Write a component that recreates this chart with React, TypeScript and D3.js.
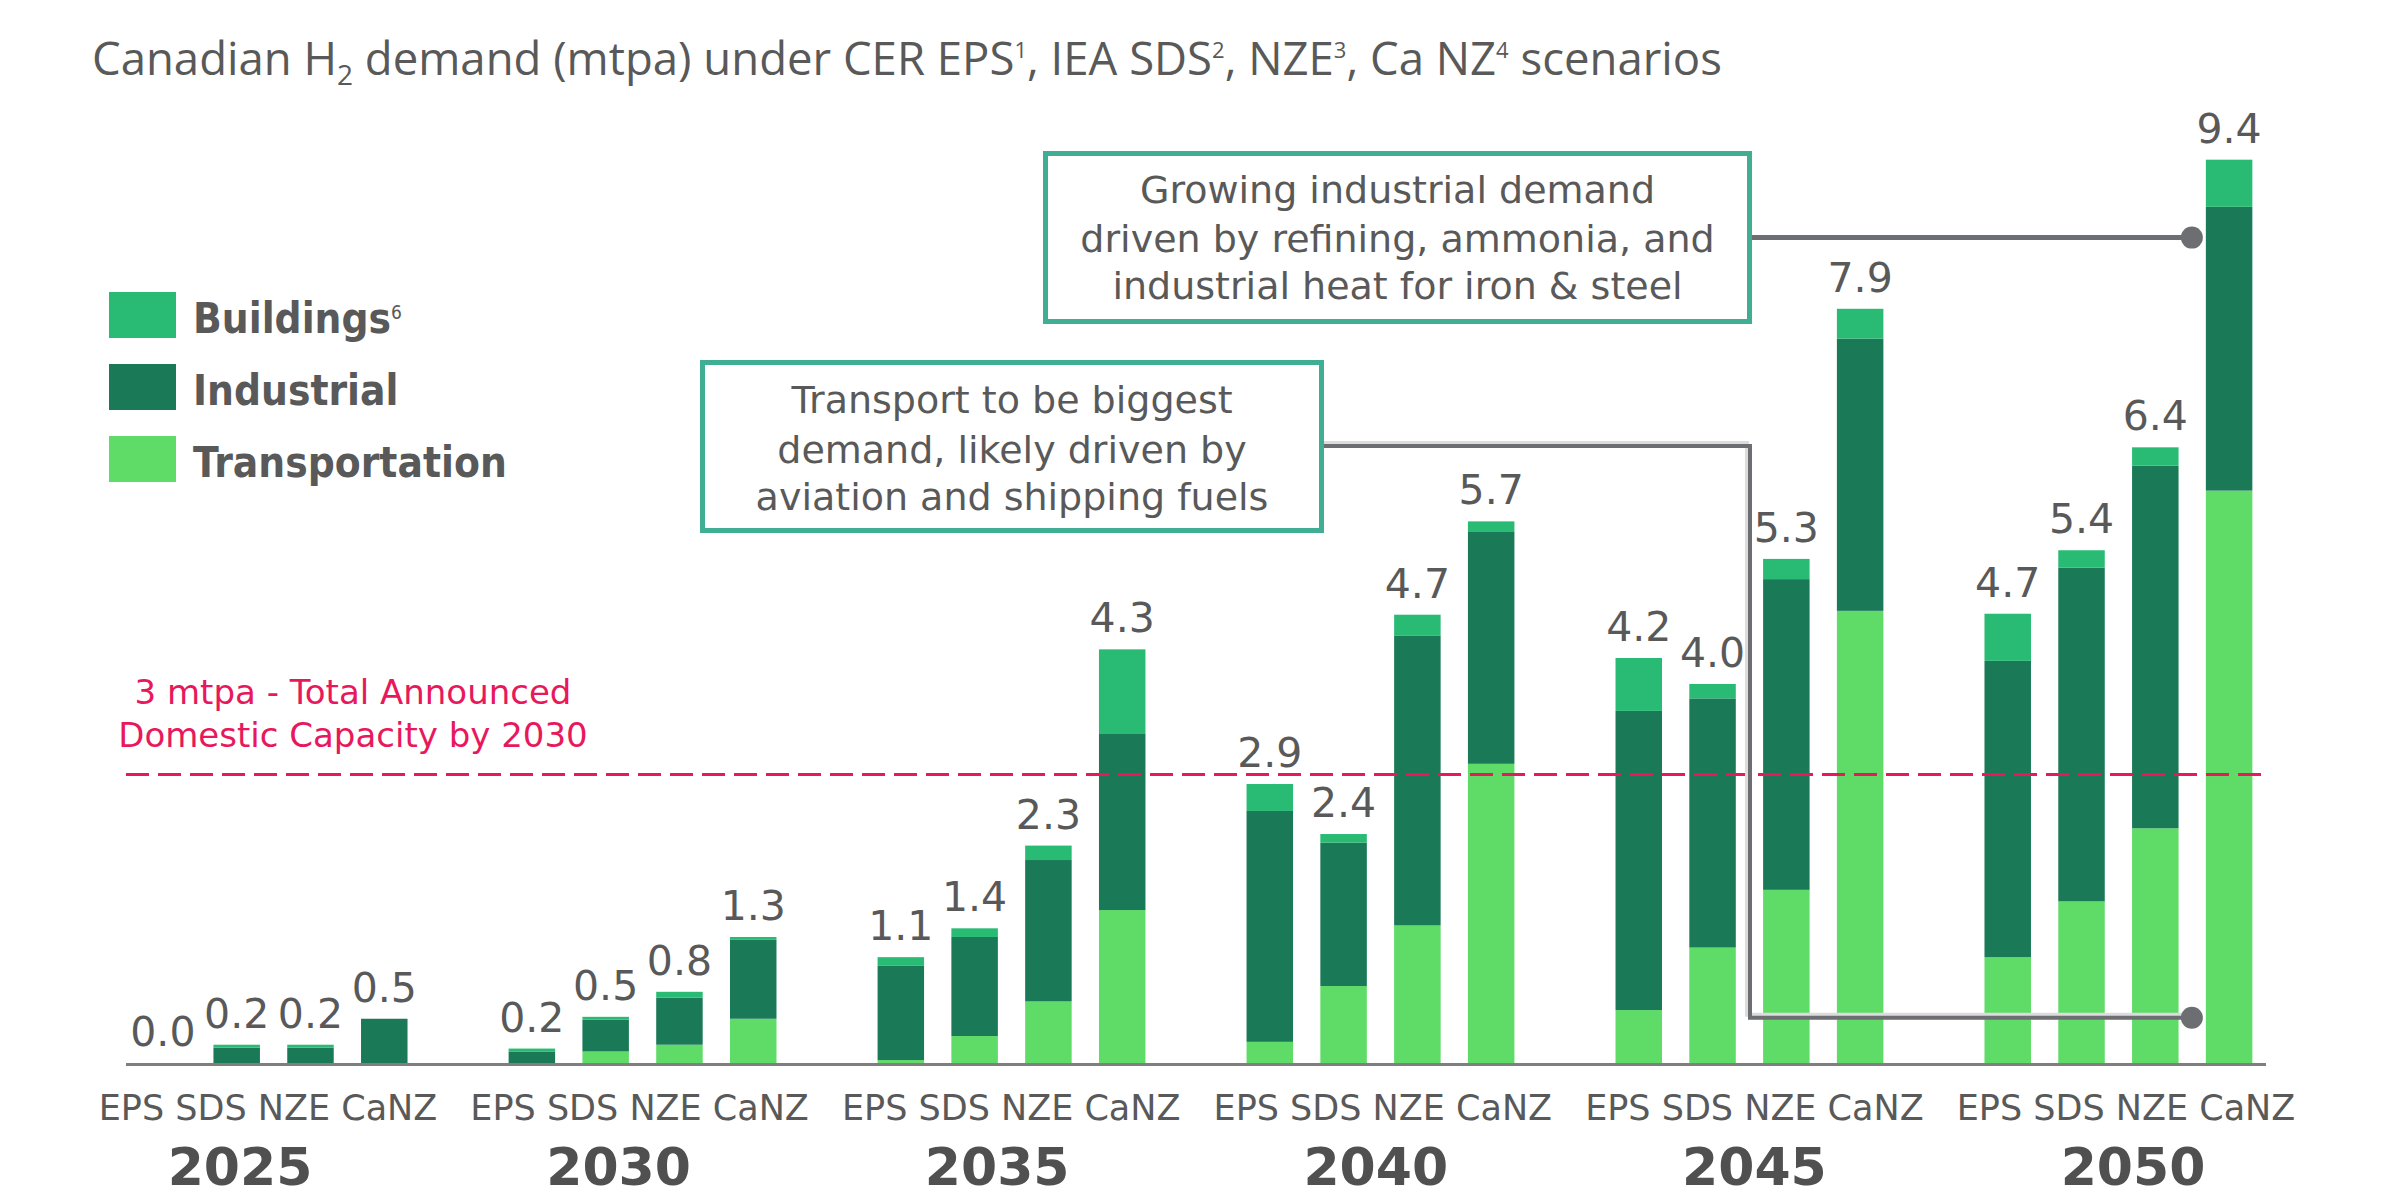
import React from "react";
import * as d3 from "d3";

const years = ["2025", "2030", "2035", "2040", "2045", "2050"];
const scenarios = ["EPS", "SDS", "NZE", "CaNZ"];
const seriesKeys = ["Transportation", "Industrial", "Buildings"];

// values in mtpa, ordered year by year, scenarios EPS, SDS, NZE, CaNZ
const transportation = [
  0, 0, 0, 0,
  0, 0.12, 0.19, 0.46,
  0.03, 0.28, 0.64, 1.59,
  0.22, 0.8, 1.43, 3.11,
  0.55, 1.2, 1.8, 4.7,
  1.1, 1.68, 2.44, 5.95,
];
const industrial = [
  0, 0.16, 0.16, 0.46,
  0.12, 0.33, 0.49, 0.82,
  0.98, 1.03, 1.47, 1.83,
  2.4, 1.49, 3.01, 2.41,
  3.11, 2.59, 3.23, 2.83,
  3.08, 3.47, 3.77, 2.95,
];
const buildings = [
  0, 0.03, 0.03, 0,
  0.03, 0.03, 0.06, 0.03,
  0.09, 0.09, 0.15, 0.88,
  0.28, 0.09, 0.22, 0.11,
  0.55, 0.15, 0.21, 0.31,
  0.49, 0.18, 0.19, 0.49,
];
const totalLabels = [
  "0.0", "0.2", "0.2", "0.5",
  "0.2", "0.5", "0.8", "1.3",
  "1.1", "1.4", "2.3", "4.3",
  "2.9", "2.4", "4.7", "5.7",
  "4.2", "4.0", "5.3", "7.9",
  "4.7", "5.4", "6.4", "9.4",
];
const capacityLine = 3;

const colors: Record<string, string> = {
  Buildings: "#29BB74",
  Industrial: "#1A7A57",
  Transportation: "#5FDB67",
};
const legendItems = [
  { key: "Buildings", label: "Buildings", sup: "6" },
  { key: "Industrial", label: "Industrial", sup: "" },
  { key: "Transportation", label: "Transportation", sup: "" },
];

const GRAY = "#595959";
const PINK = "#E8185C";
const TEAL = "#40AE92";
const LINE = "#6D6E72";
const DV = "'DejaVu Sans', Verdana, sans-serif";
const DVC = "'DejaVu Sans Condensed', 'DejaVu Sans', sans-serif";

export default function App() {
  const W = 2400;
  const H = 1198;

  const x0 = d3.scaleBand<string>().domain(years).range([126, 2266]).paddingInner(0.2).paddingOuter(0);
  const x1 = d3
    .scaleBand<string>()
    .domain(scenarios)
    .range([0, x0.bandwidth()])
    .paddingInner(0.37)
    .paddingOuter(0.185);
  const y = d3.scaleLinear().domain([0, 10]).range([1063, 101]);
  const yearPos = d3.scalePoint<string>().domain(years).range([240, 2133]);
  const scenPos = d3.scalePoint<string>().domain(years).range([268, 2126]);

  const rows = years.flatMap((yr, gi) =>
    scenarios.map((sc, si) => {
      const i = gi * 4 + si;
      return {
        year: yr,
        scenario: sc,
        Transportation: transportation[i],
        Industrial: industrial[i],
        Buildings: buildings[i],
        label: totalLabels[i],
      };
    })
  );
  const stacked = d3.stack<any>().keys(seriesKeys)(rows);
  const bx = (r: any) => (x0(r.year) as number) + (x1(r.scenario) as number);
  const bw = x1.bandwidth();

  // annotation anchors (attached to the 2050 CaNZ bar)
  const last = rows[rows.length - 1];
  const dotX = bx(last) - 14;
  const dotTopY = y(8.58);
  const dotBotY = y(0.47);

  const upperBox = { x: 1043, y: 151, w: 709, h: 173 };
  const lowerBox = { x: 700, y: 360, w: 624, h: 173 };

  return (
    <svg
      width={W}
      height={H}
      viewBox={`0 0 ${W} ${H}`}
      style={{ position: "absolute", left: 0, top: 0, background: "#fff" }}
    >
      <rect x={0} y={0} width={W} height={H} fill="#fff" />

      {/* subtitle */}
      <text x={92} y={75} fontFamily="'Open Sans', sans-serif" fontSize={45.5} fill={GRAY}>
        <tspan>Canadian H</tspan>
        <tspan fontSize={28} dy={10}>2</tspan>
        <tspan dy={-10}> demand (mtpa) under CER EPS</tspan>
        <tspan fontSize={22} dy={-17}>1</tspan>
        <tspan dy={17}>, IEA SDS</tspan>
        <tspan fontSize={22} dy={-17}>2</tspan>
        <tspan dy={17}>, NZE</tspan>
        <tspan fontSize={22} dy={-17}>3</tspan>
        <tspan dy={17}>, Ca NZ</tspan>
        <tspan fontSize={22} dy={-17}>4</tspan>
        <tspan dy={17}> scenarios</tspan>
      </text>

      {/* legend */}
      {legendItems.map((it, i) => (
        <g key={it.key} transform={`translate(109, ${292 + i * 72})`}>
          <rect x={0} y={0} width={67} height={46} fill={colors[it.key]} />
          <text
            x={84}
            y={41}
            fontFamily={DVC}
            fontStretch="condensed"
            fontWeight="bold"
            fontSize={42}
            fill={GRAY}
          >
            {it.label}
            {it.sup && (
              <tspan fontSize={19} dy={-14} fontWeight="normal">
                {it.sup}
              </tspan>
            )}
          </text>
        </g>
      ))}

      {/* capacity reference label */}
      <g fontFamily={DV} fontSize={34} fill={PINK} textAnchor="middle">
        <text x={353} y={704}>3 mtpa - Total Announced</text>
        <text x={353} y={747}>Domestic Capacity by 2030</text>
      </g>

      {/* bars */}
      {stacked.map((layer) => (
        <g key={layer.key} fill={colors[layer.key]}>
          {layer.map((d, i) => {
            const h = y(d[0]) - y(d[1]);
            if (h <= 0) return null;
            return <rect key={i} x={bx(d.data)} y={y(d[1])} width={bw} height={h} />;
          })}
        </g>
      ))}

      {/* reference line */}
      <line
        x1={x0.range()[0]}
        x2={x0.range()[1]}
        y1={y(capacityLine)}
        y2={y(capacityLine)}
        stroke={PINK}
        strokeWidth={3}
        strokeDasharray="23 9"
      />

      {/* total labels */}
      <g fontFamily={DV} fontSize={41} fill={GRAY} textAnchor="middle">
        {rows.map((r, i) => {
          const total = r.Transportation + r.Industrial + r.Buildings;
          return (
            <text key={i} x={bx(r) + bw / 2} y={y(total) - 17}>
              {r.label}
            </text>
          );
        })}
      </g>

      {/* baseline */}
      <line
        x1={x0.range()[0]}
        x2={x0.range()[1]}
        y1={y(0) + 1.5}
        y2={y(0) + 1.5}
        stroke="#7F7F7F"
        strokeWidth={3}
      />

      {/* category labels */}
      <g fontFamily={DV} fontSize={35} fill={GRAY} textAnchor="middle">
        {years.map((yr) => (
          <text key={yr} x={scenPos(yr)} y={1120}>
            {scenarios.join(" ")}
          </text>
        ))}
      </g>
      <g fontFamily={DV} fontWeight="bold" fontSize={52} fill="#505050" textAnchor="middle">
        {years.map((yr) => (
          <text key={yr} x={yearPos(yr)} y={1185}>
            {yr}
          </text>
        ))}
      </g>

      {/* annotation connectors */}
      <polyline
        points={`${lowerBox.x + lowerBox.w},${446 - 3} ${1750 - 3},${446 - 3} ${1750 - 3},${dotBotY - 3} ${dotX},${dotBotY - 3}`}
        fill="none"
        stroke="#DCDCDC"
        strokeWidth={4}
      />
      <polyline
        points={`${lowerBox.x + lowerBox.w},446 1750,446 1750,${dotBotY} ${dotX},${dotBotY}`}
        fill="none"
        stroke={LINE}
        strokeWidth={4}
      />
      <circle cx={dotX} cy={dotBotY} r={11} fill={LINE} />
      <line
        x1={upperBox.x + upperBox.w}
        x2={dotX}
        y1={dotTopY}
        y2={dotTopY}
        stroke={LINE}
        strokeWidth={5}
      />
      <circle cx={dotX} cy={dotTopY} r={11} fill={LINE} />

      {/* annotation boxes */}
      <g fontFamily={DV} fontSize={38} fill={GRAY} textAnchor="middle">
        <rect
          x={upperBox.x + 2.5}
          y={upperBox.y + 2.5}
          width={upperBox.w - 5}
          height={upperBox.h - 5}
          fill="#fff"
          stroke={TEAL}
          strokeWidth={5}
        />
        <text x={upperBox.x + upperBox.w / 2} y={203}>Growing industrial demand</text>
        <text x={upperBox.x + upperBox.w / 2} y={252}>driven by refining, ammonia, and</text>
        <text x={upperBox.x + upperBox.w / 2} y={299}>industrial heat for iron &amp; steel</text>

        <rect
          x={lowerBox.x + 2.5}
          y={lowerBox.y + 2.5}
          width={lowerBox.w - 5}
          height={lowerBox.h - 5}
          fill="#fff"
          stroke={TEAL}
          strokeWidth={5}
        />
        <text x={lowerBox.x + lowerBox.w / 2} y={413}>Transport to be biggest</text>
        <text x={lowerBox.x + lowerBox.w / 2} y={463}>demand, likely driven by</text>
        <text x={lowerBox.x + lowerBox.w / 2} y={510}>aviation and shipping fuels</text>
      </g>
    </svg>
  );
}
